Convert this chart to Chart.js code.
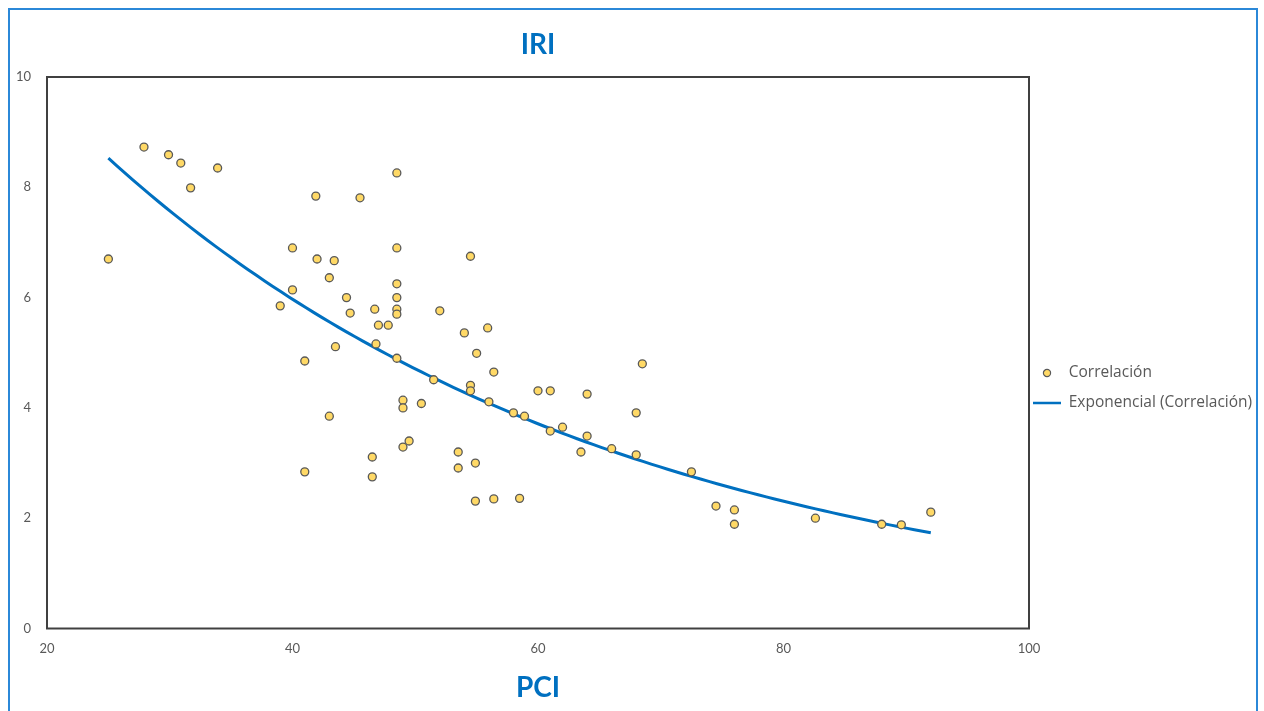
<!DOCTYPE html>
<html>
<head>
<meta charset="utf-8">
<script src="https://cdn.jsdelivr.net/npm/chart.js@4.4.1/dist/chart.umd.min.js"></script>
<style>
    body { margin: 0; background: #fff; }
    #moldura { position: absolute; left: 8px; top: 8px; width: 1246px; height: 720px; border: 2px solid #2b88d8; }
    #grafico { position: absolute; left: 0; top: 0; }
</style>
</head>
<body>
<div id="moldura"></div>
<canvas id="grafico" width="1264" height="711"></canvas>
<script>
// PCI (eje x) e IRI (eje y) de cada tramo
var pci = [25, 27.9, 29.9, 30.9, 31.7, 33.9, 39, 40, 40, 41, 41, 41.9, 42, 43, 43, 43.4, 43.5, 44.4, 44.7, 45.5,
           46.5, 46.5, 46.7, 46.8, 47, 47.8, 48.5, 48.5, 48.5, 48.5, 48.5, 48.5, 48.5, 49, 49, 49, 49.5, 50.5, 51.5, 52,
           53.5, 53.5, 54, 54.5, 54.5, 54.5, 54.9, 55, 54.9, 55.9, 56, 56.4, 56.4, 58, 58.5, 58.9, 60, 61, 61, 62,
           63.5, 64, 64, 66, 68, 68, 68.5, 72.5, 74.5, 76, 76, 82.6, 88, 89.6, 92];
var iri = [6.70, 8.73, 8.59, 8.44, 7.99, 8.35, 5.85, 6.90, 6.14, 4.85, 2.84, 7.84, 6.70, 6.36, 3.85, 6.67, 5.11, 6.00, 5.72, 7.81,
           3.11, 2.75, 5.79, 5.16, 5.50, 5.50, 8.26, 6.90, 6.25, 6.00, 5.79, 5.70, 4.90, 4.14, 4.00, 3.29, 3.40, 4.08, 4.51, 5.76,
           3.20, 2.91, 5.36, 6.75, 4.41, 4.31, 3.00, 4.99, 2.31, 5.45, 4.11, 4.65, 2.35, 3.91, 2.36, 3.85, 4.31, 4.31, 3.58, 3.65,
           3.20, 4.25, 3.49, 3.26, 3.91, 3.15, 4.80, 2.84, 2.22, 2.15, 1.89, 2.00, 1.89, 1.88, 2.11];
var ticksX = [20, 40, 60, 80, 100];
var ticksY = [0, 2, 4, 6, 8, 10];

var pontos = pci.map(function (x, i) { return { x: x, y: iri[i] }; });

// linha de tendencia exponencial (minimos quadrados sobre ln y), como no Excel
var n = pci.length, sx = 0, sy = 0, sxx = 0, sxy = 0;
for (var i = 0; i < n; i++) {
    var ly = Math.log(iri[i]);
    sx += pci[i]; sy += ly; sxx += pci[i] * pci[i]; sxy += pci[i] * ly;
}
var b = (n * sxy - sx * sy) / (n * sxx - sx * sx);
var a = Math.exp((sy - b * sx) / n);
var xMin = Math.min.apply(null, pci), xMax = Math.max.apply(null, pci);
var tendencia = [];
for (var k = 0; k <= 100; k++) {
    var xt = xMin + (xMax - xMin) * k / 100;
    tendencia.push({ x: xt, y: a * Math.exp(b * xt) });
}

// bolinha da legenda
var bolinha = document.createElement('canvas');
bolinha.width = 10; bolinha.height = 10;
var bc = bolinha.getContext('2d');
bc.beginPath(); bc.arc(5, 5, 3.6, 0, Math.PI * 2);
bc.fillStyle = '#FFD966'; bc.fill();
bc.lineWidth = 1.2; bc.strokeStyle = '#595959'; bc.stroke();

var moldura = {
    id: 'moldura',
    beforeDatasetsDraw: function (chart) {
        var c = chart.ctx, ar = chart.chartArea;
        c.save();
        c.strokeStyle = '#404040';
        c.lineWidth = 2;
        c.strokeRect(ar.left, ar.top, ar.right - ar.left, ar.bottom - ar.top);
        c.restore();
    }
};

// legenda fica encostada no grafico
var ajustaLegenda = {
    id: 'ajustaLegenda',
    afterLayout: function (chart) {
        chart.legend.left -= 10.5;
        chart.legend.right -= 10.5;
    }
};

var cinza = '#595959';
var ctx = document.getElementById('grafico').getContext('2d');
window.grafico = new Chart(ctx, {
    type: 'scatter',
    data: {
        datasets: [{
            label: 'Correlación',
            data: pontos,
            backgroundColor: '#FFD966',
            borderColor: cinza,
            borderWidth: 1.3,
            pointRadius: 4,
            pointHoverRadius: 4
        }, {
            label: 'Exponencial (Correlación)',
            data: tendencia,
            showLine: true,
            borderColor: '#0070C0',
            backgroundColor: '#0070C0',
            borderWidth: 3,
            pointRadius: 0,
            pointHoverRadius: 0,
            tension: 0
        }]
    },
    options: {
        responsive: false,
        animation: false,
        layout: { padding: 0 },
        scales: {
            x: {
                type: 'linear',
                min: 20,
                max: 100,
                afterBuildTicks: function (s) { s.ticks = ticksX.map(function (v) { return { value: v }; }); },
                afterFit: function (s) { s.height = 82.5; },
                grid: { display: false, drawTicks: false },
                border: { display: false },
                ticks: { color: cinza, padding: 13, font: { family: 'Lato', size: 13 } },
                title: {
                    display: true,
                    text: 'PCI',
                    color: '#0070C0',
                    padding: { top: 6, bottom: 6 },
                    font: { family: 'Lato', size: 28, weight: 'bold' }
                }
            },
            y: {
                type: 'linear',
                min: 0,
                max: 10,
                afterBuildTicks: function (s) { s.ticks = ticksY.map(function (v) { return { value: v }; }); },
                afterFit: function (s) { s.width = 47; },
                grid: { display: false, drawTicks: false },
                border: { display: false },
                ticks: { color: cinza, padding: 16, font: { family: 'Lato', size: 13 } }
            }
        },
        plugins: {
            title: {
                display: true,
                text: 'IRI',
                color: '#0070C0',
                fullSize: false,
                padding: { top: 28.2, bottom: 15.2 },
                font: { family: 'Lato', size: 28, weight: 'bold' }
            },
            legend: {
                position: 'right',
                fullSize: false,
                maxWidth: 235,
                title: { display: true, text: ' ', font: { size: 10 }, padding: { top: 58.5, bottom: 0 } },
                labels: {
                    usePointStyle: true,
                    pointStyleWidth: 28,
                    padding: 14.5,
                    color: cinza,
                    font: { family: 'Open Sans', size: 15.5 },
                    generateLabels: function (chart) {
                        var itens = Chart.defaults.plugins.legend.labels.generateLabels(chart);
                        itens[0].pointStyle = bolinha;
                        itens[1].pointStyle = 'line';
                        itens[1].lineWidth = 2.5;
                        itens[1].strokeStyle = '#0070C0';
                        return itens;
                    }
                }
            },
            tooltip: { enabled: false }
        }
    },
    plugins: [moldura, ajustaLegenda]
});
</script>
</body>
</html>
